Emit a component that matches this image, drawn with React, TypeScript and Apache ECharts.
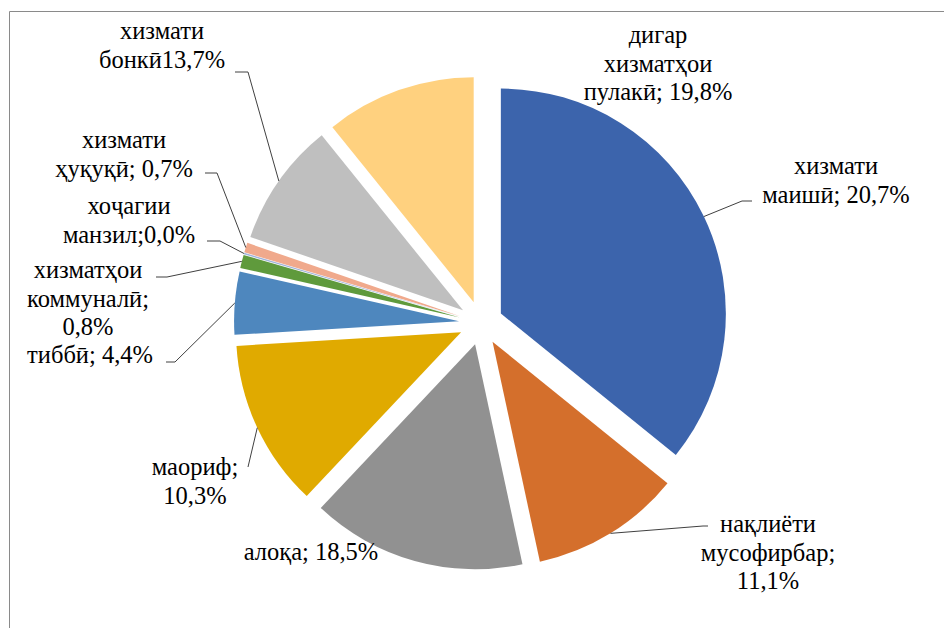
import React, { useEffect, useRef } from "react";
import * as echarts from "echarts";

// Category names, clockwise from 12 o'clock
const categories = [
  "хизмати маишӣ",
  "нақлиёти мусофирбар",
  "алоқа",
  "маориф",
  "тиббӣ",
  "хизматҳои коммуналӣ",
  "хоҷагии манзил",
  "хизмати ҳуқуқӣ",
  "хизмати бонкӣ",
  "дигар хизматҳои пулакӣ",
];
// Slice shares as drawn in the picture (%)
const sliceShares = [35.8, 10.8, 15.4, 12.0, 4.5, 0.95, 0.1, 0.7, 8.9, 10.8];
// Percentages printed in the data labels
const labelPercents = [20.7, 11.1, 18.5, 10.3, 4.4, 0.8, 0.0, 0.7, 13.7, 19.8];

const colors = [
  "#3C64AC",
  "#D46F2C",
  "#919191",
  "#E0AA00",
  "#4E87BE",
  "#5F9A3C",
  "#9FB3DA",
  "#F0A98C",
  "#BFBFBF",
  "#FFD17F",
];

// Layout of labels: template ({k} = k-th word of name, {p} = percent), centre, leader points
const labelLayout = [
  { t: "{0}\n{1}; {p}", x: 836, y: 180, line: [[742, 201], [752, 201]] },
  { t: "{0}\n{1};\n{p}", x: 768, y: 552, line: [[703, 526], [708, 526]] },
  { t: "{0}; {p}", x: 311, y: 551, line: null },
  { t: "{0};\n{p}", x: 195, y: 481, line: [[248, 467]] },
  { t: "{0}; {p}", x: 90, y: 354, line: [[175, 362], [166, 362]] },
  { t: "{0}\n{1};\n{p}", x: 88, y: 298, line: [[167, 277], [156, 277]] },
  { t: "{0}\n{1};{p}", x: 129, y: 220, line: [[220, 241], [207, 241]] },
  { t: "{0}\n{1}; {p}", x: 124, y: 154, line: [[217, 173], [205, 173]] },
  { t: "{0}\n{1}{p}", x: 162, y: 45, line: [[248, 72], [235, 72]] },
  { t: "{0}\n{1}\n{2}; {p}", x: 658, y: 63, line: null },
];

const CX = 481;
const CY = 323;
const R = 225;
const OFFSET = 22;
const LINE_H = 28.5;
const FS = 24.5;
const FAMILY = "Liberation Serif";

function fmtPct(v: number) {
  return v.toFixed(1).replace(".", ",") + "%";
}

function buildText(i: number) {
  const words = categories[i].split(" ");
  return labelLayout[i].t
    .replace(/\{(\d)\}/g, (_m, k) => words[Number(k)])
    .replace("{p}", fmtPct(labelPercents[i]));
}

export default function App() {
  const ref = useRef<HTMLDivElement>(null);

  useEffect(() => {
    if (!ref.current) return;
    const chart = echarts.init(ref.current, undefined, { renderer: "svg" });

    const total = sliceShares.reduce((a, b) => a + b, 0);
    let cum = 0;
    const graphics: any[] = [];
    sliceShares.forEach((v, i) => {
      const mid = ((cum + v / 2) / total) * 2 * Math.PI;
      cum += v;
      const lay = labelLayout[i];
      if (lay.line) {
        const ax = CX + (R + OFFSET) * Math.sin(mid);
        const ay = CY - (R + OFFSET) * Math.cos(mid);
        graphics.push({
          type: "polyline",
          z: 10,
          shape: { points: [[ax, ay], ...lay.line] },
          style: { stroke: "#404040", lineWidth: 1, fill: null },
          silent: true,
        });
      }
      const lines = buildText(i).split("\n");
      lines.forEach((ln, k) => {
        graphics.push({
          type: "text",
          z: 11,
          x: lay.x,
          y: lay.y + (k - (lines.length - 1) / 2) * LINE_H,
          silent: true,
          style: {
            text: ln,
            fontSize: FS,
            fontFamily: FAMILY,
            fill: "#000",
            align: "center",
            verticalAlign: "middle",
          },
        });
      });
    });

    graphics.push({
      type: "rect",
      z: 0,
      shape: { x: 9.5, y: 11.5, width: 1200, height: 1200 },
      style: { fill: null, stroke: "#8a8a8a", lineWidth: 1 },
      silent: true,
    });

    chart.setOption({
      animation: false,
      backgroundColor: "#fff",
      graphic: graphics,
      series: [
        {
          type: "pie",
          center: [CX, CY],
          radius: [0, R],
          startAngle: 90,
          clockwise: true,
          selectedMode: "multiple",
          selectedOffset: OFFSET,
          avoidLabelOverlap: false,
          label: { show: false },
          labelLine: { show: false },
          emphasis: { disabled: true, scale: false },
          itemStyle: { borderWidth: 0 },
          data: sliceShares.map((v, i) => ({
            name: categories[i],
            value: v,
            selected: true,
            itemStyle: { color: colors[i] },
          })),
        },
      ],
    });

    return () => chart.dispose();
  }, []);

  return (
    <div style={{ position: "fixed", left: 0, top: 0, width: 944, height: 628, background: "#fff" }}>
      <style>{`#pie-chart svg text { font-family: "Liberation Serif", "Times New Roman", serif !important; }`}</style>
      <div id="pie-chart" ref={ref} style={{ position: "absolute", left: 0, top: 0, width: 944, height: 628 }} />
    </div>
  );
}
